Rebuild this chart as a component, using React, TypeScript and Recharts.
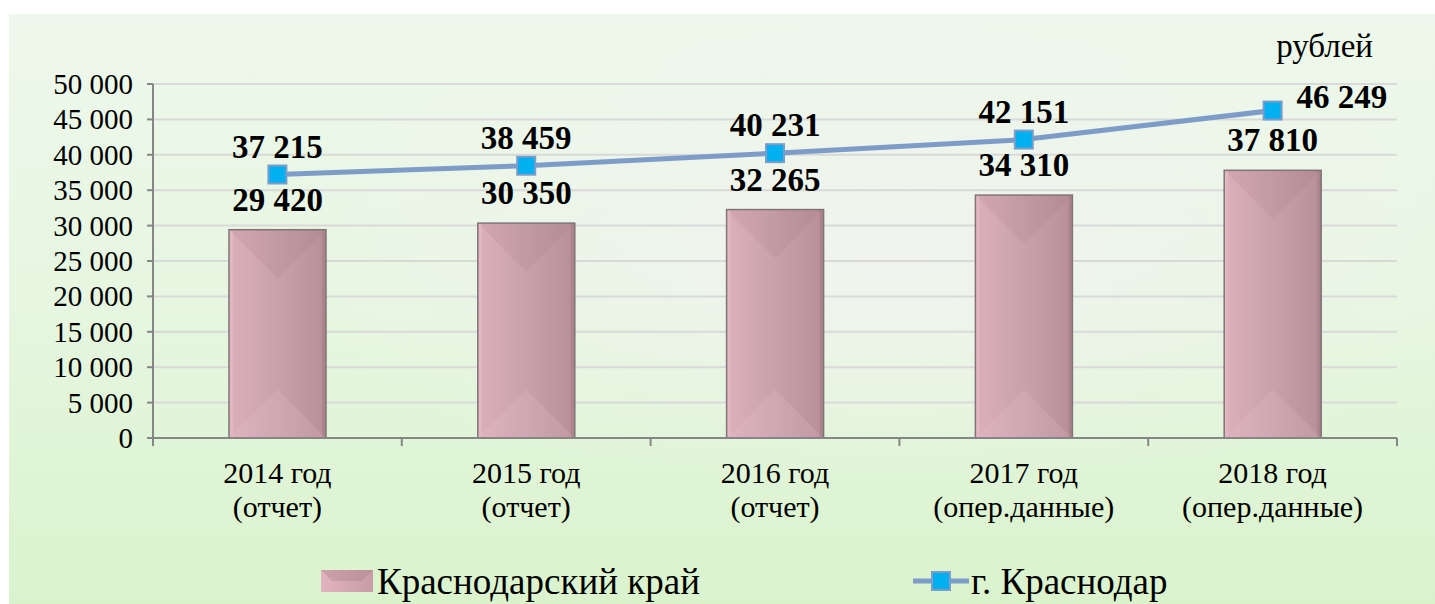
import { ComposedChart, Bar, Line, XAxis, YAxis, CartesianGrid, Legend, LabelList } from 'recharts';

const years = ['2014 год', '2015 год', '2016 год', '2017 год', '2018 год'];
const notes = ['(отчет)', '(отчет)', '(отчет)', '(опер.данные)', '(опер.данные)'];
const regionValues = [29420, 30350, 32265, 34310, 37810];
const cityValues = [37215, 38459, 40231, 42151, 46249];
const yTicks = [0, 5000, 10000, 15000, 20000, 25000, 30000, 35000, 40000, 45000, 50000];

const data = years.map((y, i) => ({
    name: y,
    note: notes[i],
    region: regionValues[i],
    city: cityValues[i],
}));

const CHART_W = 1426;
const CHART_H = 590;
const Y_W = 144;
const MARGIN_R = 38;
const FONT = 'Liberation Serif';

const fmt = (v: number) => String(v).replace(/\B(?=(\d{3})+(?!\d))/g, ' ');

const BevelBar = (props: any) => {
    const { x, y, width, height } = props;
    if (!height || height <= 0) return null;
    const b = Math.min(width / 2, height / 2);
    return (
        <g>
            <rect x={x} y={y} width={width} height={height} fill="url(#barFill)" />
            <polygon points={`${x},${y} ${x + width},${y} ${x + width / 2},${y + b}`} fill="#9a7079" opacity={0.13} />
            <polygon points={`${x},${y + height} ${x + width},${y + height} ${x + width / 2},${y + height - b}`} fill="#f0c8d2" opacity={0.18} />
            <rect x={x} y={y} width={4} height={height} fill="#eac0ca" opacity={0.5} />
            <rect x={x + width - 4} y={y} width={4} height={height} fill="#8e6a72" opacity={0.3} />
            <rect x={x} y={y} width={width} height={height} fill="none" stroke="#7f7577" strokeWidth={1.5} />
        </g>
    );
};

const XTick = (props: any) => {
    const { x, y, payload, index } = props;
    const half = (CHART_W - Y_W - MARGIN_R) / years.length / 2;
    const item = data[index];
    return (
        <g>
            <line x1={x - half} y1={y} x2={x - half} y2={y + 8} stroke="#868686" strokeWidth={2} />
            {index === years.length - 1 && (
                <line x1={x + half} y1={y} x2={x + half} y2={y + 8} stroke="#868686" strokeWidth={2} />
            )}
            <text x={x} y={y + 45} textAnchor="middle" fontSize={30} fontFamily={FONT} fill="#000">
                {payload.value}
            </text>
            <text x={x} y={y + 79} textAnchor="middle" fontSize={30} fontFamily={FONT} fill="#000">
                {item ? item.note : ''}
            </text>
        </g>
    );
};

const YTick = (props: any) => {
    const { x, y, payload } = props;
    return (
        <text x={x} y={y + 10} textAnchor="end" fontSize={29} fontFamily={FONT} fill="#000">
            {fmt(payload.value)}
        </text>
    );
};

const BarLabel = (props: any) => {
    const { x, y, width, value } = props;
    return (
        <text x={x + width / 2} y={y - 19} textAnchor="middle" fontSize={33} fontWeight="bold" fontFamily={FONT} fill="#000">
            {fmt(value)}
        </text>
    );
};

const LineLabel = (props: any) => {
    const { x, y, value, index } = props;
    if (index === cityValues.length - 1) {
        return (
            <text x={x + 24} y={y - 3} textAnchor="start" fontSize={33} fontWeight="bold" fontFamily={FONT} fill="#000">
                {fmt(value)}
            </text>
        );
    }
    return (
        <text x={x} y={y - 17} textAnchor="middle" fontSize={33} fontWeight="bold" fontFamily={FONT} fill="#000">
            {fmt(value)}
        </text>
    );
};

const SquareDot = (props: any) => {
    const { cx, cy } = props;
    if (cx == null || cy == null) return null;
    return <rect x={cx - 9} y={cy - 9} width={18} height={18} fill="#00b0f0" stroke="#7e9cc8" strokeWidth={2} />;
};

const LegendContent = () => (
    <div style={{ position: 'relative', height: 46, fontFamily: FONT, fontSize: 37, color: '#000' }}>
        <div style={{ position: 'absolute', left: 311, top: 0, display: 'flex', alignItems: 'center', height: 46 }}>
            <svg width={54} height={24}>
                <defs>
                    <linearGradient id="legBar" x1="0" y1="0" x2="1" y2="0">
                        <stop offset="0%" stopColor="#e2b4bf" />
                        <stop offset="100%" stopColor="#c79ca6" />
                    </linearGradient>
                </defs>
                <rect x={1} y={1} width={52} height={22} fill="url(#legBar)" />
                <polygon points="1,1 53,1 42,12 12,12" fill="#a07880" opacity={0.3} />
            </svg>
            <span style={{ marginLeft: 3 }}>Краснодарский край</span>
        </div>
        <div style={{ position: 'absolute', left: 904, top: 0, display: 'flex', alignItems: 'center', height: 46 }}>
            <svg width={56} height={24}>
                <line x1={0} y1={12} x2={56} y2={12} stroke="#7e9cc8" strokeWidth={5} />
                <rect x={19} y={3} width={18} height={18} fill="#00b0f0" stroke="#7e9cc8" strokeWidth={2} />
            </svg>
            <span style={{ marginLeft: 2 }}>г. Краснодар</span>
        </div>
    </div>
);

export default function App() {
    return (
        <div
            style={{
                position: 'absolute',
                left: 9,
                top: 14,
                width: CHART_W,
                height: CHART_H,
                background:
                    'radial-gradient(ellipse 45% 40% at 62% 40%, rgba(242,243,240,0.9), rgba(242,243,240,0) 100%), linear-gradient(180deg, #eef8ec 0%, #e6f6e0 50%, #daf3cd 100%)',
            }}
        >
            <div style={{ position: 'absolute', right: 62, top: 14, fontFamily: FONT, fontSize: 33, color: '#000' }}>рублей</div>
            <ComposedChart width={CHART_W} height={CHART_H} data={data} margin={{ top: 70, right: MARGIN_R, bottom: 0, left: 0 }}>
                <defs>
                    <linearGradient id="barFill" x1="0" y1="0" x2="1" y2="0">
                        <stop offset="0%" stopColor="#dcb0bb" />
                        <stop offset="50%" stopColor="#c9a1aa" />
                        <stop offset="100%" stopColor="#b88f98" />
                    </linearGradient>
                </defs>
                <CartesianGrid vertical={false} stroke="#d9d9d9" strokeWidth={2} />
                <XAxis
                    dataKey="name"
                    height={120}
                    tick={<XTick />}
                    tickLine={false}
                    tickSize={0}
                    tickMargin={0}
                    axisLine={{ stroke: '#868686', strokeWidth: 2 }}
                    interval={0}
                />
                <YAxis
                    width={Y_W}
                    domain={[0, 50000]}
                    ticks={yTicks}
                    interval={0}
                    tickSize={6}
                    tickMargin={14}
                    tick={<YTick />}
                    tickLine={{ stroke: '#868686', strokeWidth: 2 }}
                    axisLine={{ stroke: '#868686', strokeWidth: 2 }}
                />
                <Legend verticalAlign="bottom" height={46} content={<LegendContent />} wrapperStyle={{ left: 0, bottom: 0, width: CHART_W }} />
                <Bar dataKey="region" name="Краснодарский край" barSize={97} shape={<BevelBar />} isAnimationActive={false}>
                    <LabelList dataKey="region" content={<BarLabel />} />
                </Bar>
                <Line
                    dataKey="city"
                    name="г. Краснодар"
                    type="linear"
                    stroke="#7e9cc8"
                    strokeWidth={5}
                    dot={<SquareDot />}
                    activeDot={false}
                    isAnimationActive={false}
                >
                    <LabelList dataKey="city" content={<LineLabel />} />
                </Line>
            </ComposedChart>
        </div>
    );
}
